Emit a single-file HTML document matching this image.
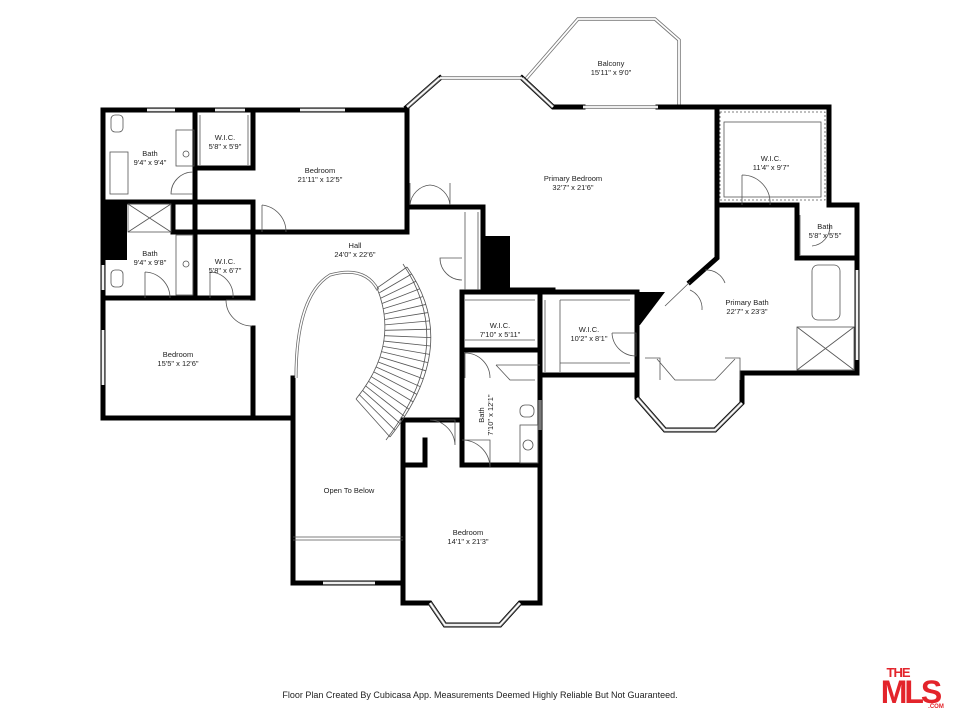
<!DOCTYPE html>
<html><head><meta charset="utf-8"><style>
html,body{margin:0;padding:0;background:#fff;width:960px;height:720px;overflow:hidden}
svg{display:block}
text{font-family:"Liberation Sans",sans-serif;font-size:7.5px;fill:#222;text-anchor:middle}
.w{stroke:#000;stroke-width:5;fill:none;stroke-linecap:square}
.t{stroke:#555;stroke-width:0.8;fill:none}
.win{stroke:#777;stroke-width:3.5;fill:none}
.win2{stroke:#fff;stroke-width:1.8;fill:none}
</style></head><body>
<svg width="960" height="720" viewBox="0 0 960 720" xmlns="http://www.w3.org/2000/svg">
<path d="M525,80 L578,19 L655,19 L679,40 L679,106" class="win"/>
<path d="M525,80 L578,19 L655,19 L679,40 L679,106" class="win2"/>
<g class="w">
<path d="M103,110 L407,110 L407,232"/>
<path d="M103,110 L103,418 L293,418 L293,583 L403,583"/>
<path d="M403,420 L403,603 L430,603 L445,625 L500,625 L520,603 L540,603 L540,375"/>
<path d="M403,420 L462,420"/>
<path d="M403,465 L425,465 L425,440"/>
<path d="M462,292 L462,465 L540,465"/>
<path d="M462,350 L540,350"/>
<path d="M462,292 L637,292 L637,375"/>
<path d="M540,292 L540,375 L637,375 L637,398 L665,430 L715,430 L742,403 L742,373 L857,373"/>
<path d="M407,107 L440,78 M522,78 L553,107 L583,107 M658,107 L829,107 L829,205 L857,205 L857,373"/>
<path d="M717,107 L717,258 L690,282"/>
<path d="M717,205 L797,205 L797,258 L857,258"/>
<path d="M407,207 L483,207 L483,290 L553,290"/>
<path d="M195,110 L195,298"/>
<path d="M195,168 L253,168 L253,110"/>
<path d="M103,202 L253,202 L253,232"/>
<path d="M173,202 L173,232 L407,232"/>
<path d="M103,298 L253,298"/>
<path d="M253,232 L253,298 M253,328 L253,418"/>
<path d="M293,418 L293,378"/>
</g>
<rect x="103" y="202" width="24" height="58" fill="#000"/>
<rect x="483" y="236" width="27" height="56" fill="#000"/>
<polygon points="637,292 665,292 640,325 637,325" fill="#000"/>
<path d="M690,282 L665,306" class="t"/>
<g>
<path d="M440,78 L522,78 M407,107 L440,78 M522,78 L553,107 M583,107 L658,107 M430,603 L445,625 L500,625 L520,603 M637,398 L665,430 L715,430 L742,403 M323,583 L375,583 M147,110 L175,110 M215,110 L245,110 M300,110 L345,110 M103,330 L103,385 M103,265 L103,290 M857,270 L857,360 M540,400 L540,430" class="win"/>
<path d="M440,78 L522,78 M407,107 L440,78 M522,78 L553,107 M583,107 L658,107 M430,603 L445,625 L500,625 L520,603 M637,398 L665,430 L715,430 L742,403 M323,583 L375,583 M147,110 L175,110 M215,110 L245,110 M300,110 L345,110 M103,330 L103,385 M103,265 L103,290 M857,270 L857,360" class="win2"/>
</g>
<g class="t">
<line x1="293" y1="540" x2="403" y2="540"/><line x1="293" y1="537" x2="403" y2="537"/>
<rect x="110" y="152" width="18" height="42"/>
<rect x="176" y="130" width="18" height="36"/>
<rect x="111" y="115" width="12" height="17" rx="4"/>
<rect x="111" y="270" width="12" height="17" rx="4"/>
<rect x="128" y="204" width="43" height="28"/><path d="M128,204 L171,232 M171,204 L128,232"/>
<rect x="176" y="235" width="17" height="60"/>
<rect x="812" y="265" width="28" height="55" rx="6"/>
<rect x="797" y="327" width="57" height="43"/><path d="M797,327 L854,370 M854,327 L797,370"/>
<rect x="720" y="112" width="105" height="88" stroke-dasharray="2,2"/>
<rect x="724" y="122" width="97" height="75"/>
<path d="M200,115 L200,165 M248,115 L248,165"/>
<path d="M465,212 L465,290 M478,212 L478,290"/>
<path d="M465,300 L535,300 M465,340 L535,340"/>
<path d="M545,300 L545,372 M560,300 L560,372 M560,300 L630,300 M560,363 L630,363"/>
<path d="M657,359 L675,380 L715,380 L735,359 M645,358 L660,358 L660,380 M725,358 L740,358 L740,380"/>
<path d="M496,365 L510,380 L535,380 M496,365 L540,365"/>
<rect x="520" y="405" width="14" height="12" rx="5"/>
<rect x="520" y="425" width="18" height="38"/>
<circle cx="528" cy="445" r="5"/>
<circle cx="186" cy="154" r="3"/><circle cx="186" cy="264" r="3"/>
<path d="M193,172 A22,22 0 0 0 171,194 L193,194"/>
<path d="M262,205 L262,232 M262,205 A27,27 0 0 1 286,232"/>
<path d="M145,272 L145,298 M145,272 A26,26 0 0 1 170,298"/>
<path d="M210,272 L210,298 M210,272 A24,24 0 0 1 233,298"/>
<path d="M226,300 L250,300 M226,300 A26,26 0 0 0 252,326"/>
<path d="M410,183 L410,205 A22,22 0 0 1 430,185 M450,183 L450,205 A22,22 0 0 0 430,185"/>
<path d="M462,258 L440,258 A22,22 0 0 0 462,280"/>
<path d="M742,175 L742,205 M742,175 A28,28 0 0 1 770,205"/>
<path d="M612,333 L636,333 L636,356 A24,24 0 0 1 612,333"/>
<path d="M705,270 A20,20 0 0 1 725,283 M690,290 A20,20 0 0 1 702,310"/>
<path d="M465,353 L465,378 M465,353 A25,25 0 0 1 490,378"/>
<path d="M462,440 L490,440 L490,467 M462,440 A28,28 0 0 1 490,467"/>
<path d="M430,420 L455,420 L455,445 A26,26 0 0 0 430,420"/>
<path d="M800,215 L800,255 M830,226 A20,20 0 0 1 812,246"/>
</g>
<path d="M296,378 C296,330 305,290 330,275 C355,268 370,275 378,290" stroke="#666" stroke-width="3" fill="none"/>
<path d="M296,378 C296,330 305,290 330,275 C355,268 370,275 378,290" stroke="#fff" stroke-width="1.5" fill="none"/>
<path id="inner" d="M377,288 Q400,345 356,399" class="t"/>
<path id="outer" d="M407,267 Q462,345 390,437" class="t"/>
<path d="M403,264 Q458,345 386,440" class="t"/>
<g id="steps" class="t"></g>
<text x="150" y="156">Bath</text><text x="150" y="165">9'4" x 9'4"</text>
<text x="225" y="140">W.I.C.</text><text x="225" y="149">5'8" x 5'9"</text>
<text x="320" y="173">Bedroom</text><text x="320" y="182">21'11" x 12'5"</text>
<text x="150" y="256">Bath</text><text x="150" y="265">9'4" x 9'8"</text>
<text x="225" y="264">W.I.C.</text><text x="225" y="273">5'8" x 6'7"</text>
<text x="178" y="357">Bedroom</text><text x="178" y="366">15'5" x 12'6"</text>
<text x="355" y="248">Hall</text><text x="355" y="257">24'0" x 22'6"</text>
<text x="611" y="66">Balcony</text><text x="611" y="75">15'11" x 9'0"</text>
<text x="573" y="181">Primary Bedroom</text><text x="573" y="190">32'7" x 21'6"</text>
<text x="771" y="161">W.I.C.</text><text x="771" y="170">11'4" x 9'7"</text>
<text x="825" y="229">Bath</text><text x="825" y="238">5'8" x 5'5"</text>
<text x="747" y="305">Primary Bath</text><text x="747" y="314">22'7" x 23'3"</text>
<text x="500" y="328">W.I.C.</text><text x="500" y="337">7'10" x 5'11"</text>
<text x="589" y="332">W.I.C.</text><text x="589" y="341">10'2" x 8'1"</text>
<g transform="translate(487,415) rotate(-90)"><text x="0" y="-3">Bath</text><text x="0" y="6">7'10" x 12'1"</text></g>
<text x="349" y="493">Open To Below</text>
<text x="468" y="535">Bedroom</text><text x="468" y="544">14'1" x 21'3"</text>
<text x="480" y="698" style="font-size:9px">Floor Plan Created By Cubicasa App. Measurements Deemed Highly Reliable But Not Guaranteed.</text>
<text x="898" y="677" style="font-size:13px;font-weight:bold;fill:#e3242b;letter-spacing:-1px">THE</text>
<text x="910" y="703" style="font-size:32px;font-weight:bold;fill:#e3242b;letter-spacing:-3px">MLS</text>
<text x="936" y="708" style="font-size:6px;font-weight:bold;fill:#e3242b">.COM</text>
</svg>
<script>
(function(){
var a=document.getElementById('inner'),b=document.getElementById('outer'),g=document.getElementById('steps');
var la=a.getTotalLength(),lb=b.getTotalLength(),s='';
for(var i=0;i<=22;i++){var p=a.getPointAtLength(la*i/22),q=b.getPointAtLength(lb*i/22);
s+='<line x1="'+p.x+'" y1="'+p.y+'" x2="'+q.x+'" y2="'+q.y+'"/>';}
g.innerHTML=s;})();
</script>
</body></html>
